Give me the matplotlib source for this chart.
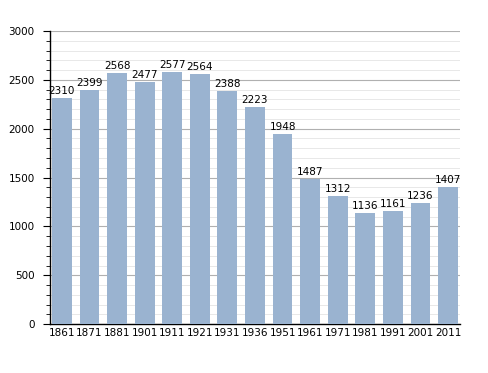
import matplotlib.pyplot as plt
import numpy as np
from matplotlib.ticker import MultipleLocator

years = ["1861", "1871", "1881", "1901", "1911", "1921", "1931", "1936",
         "1951", "1961", "1971", "1981", "1991", "2001", "2011"]
population = [2310, 2399, 2568, 2477, 2577, 2564, 2388, 2223,
              1948, 1487, 1312, 1136, 1161, 1236, 1407]

fig = plt.figure(figsize=(4.88, 3.73), dpi=100)
ax = fig.add_axes([0.1025, 0.131, 0.84, 0.786])

x = np.arange(len(years))
ax.bar(x, population, width=0.72, color="#9ab3d0", zorder=3)
for xi, v in zip(x, population):
    ax.text(xi, v + 20, str(v), ha="center", va="bottom", fontsize=7.5, zorder=4)

ax.set_xlim(-0.43, len(years) - 0.57)
ax.set_ylim(0, 3000)
ax.set_xticks(x)
ax.set_xticklabels(years, fontsize=7.5)
ax.yaxis.set_major_locator(MultipleLocator(500))
ax.yaxis.set_minor_locator(MultipleLocator(100))
ax.tick_params(axis="y", labelsize=7.5, length=5, direction="out", pad=6)
ax.tick_params(axis="y", which="minor", length=3, direction="out")
ax.tick_params(axis="x", length=0, pad=3)
ax.grid(axis="y", which="major", color="#b0b0b0", linewidth=0.8, zorder=0)
ax.grid(axis="y", which="minor", color="#e4e4e4", linewidth=0.6, zorder=0)
for s in ["top", "right"]:
    ax.spines[s].set_visible(False)
ax.spines["left"].set_linewidth(1)
ax.spines["bottom"].set_linewidth(1)

fig.savefig("out.png", dpi=100)
